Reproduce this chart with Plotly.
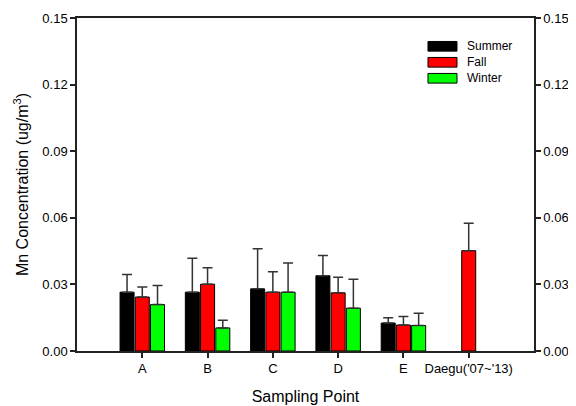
import plotly.graph_objects as go

categories = ["A", "B", "C", "D", "E", "Daegu('07~'13)"]
summer = [0.0265, 0.0265, 0.0280, 0.0339, 0.0126, None]
summer_err = [0.0080, 0.0153, 0.0181, 0.0091, 0.0024, None]
fall = [0.0243, 0.0301, 0.0265, 0.0262, 0.0117, 0.0452]
fall_err = [0.0045, 0.0074, 0.0092, 0.0070, 0.0038, 0.0124]
winter = [0.0209, 0.0104, 0.0265, 0.0193, 0.0115, None]
winter_err = [0.0086, 0.0034, 0.0131, 0.0130, 0.0055, None]
y_ticks = [0.00, 0.03, 0.06, 0.09, 0.12, 0.15]
y_tick_labels = ["0.00", "0.03", "0.06", "0.09", "0.12", "0.15"]

series_names = ["Summer", "Fall", "Winter"]
series_vals = [summer, fall, winter]
series_errs = [summer_err, fall_err, winter_err]
series_colors = ["#000000", "#ff0000", "#00ff00"]

fig = go.Figure()
for name, vals, errs, color in zip(series_names, series_vals, series_errs, series_colors):
    fig.add_trace(go.Bar(
        name=name, x=categories, y=vals,
        marker=dict(color=color, line=dict(color="#000000", width=1)),
        error_y=dict(type="data", array=errs, symmetric=False,
                     arrayminus=[0] * len(errs),
                     color="#333333", thickness=1.5, width=5),
        showlegend=False,
    ))

# invisible helper trace so the right-hand axis is drawn
fig.add_trace(go.Scatter(x=[categories[0]], y=[0], yaxis="y2", mode="markers",
                         marker=dict(opacity=0), showlegend=False, hoverinfo="skip"))

axis_col = "#222222"

# legend drawn as swatches + labels (paper coordinates)
legend_x0, legend_x1, legend_tx = 0.768, 0.8315, 0.849
legend_rows = [0.915, 0.867, 0.819]
legend_half = 0.0145
for name, color, yc in zip(series_names, series_colors, legend_rows):
    fig.add_shape(type="rect", xref="paper", yref="paper",
                  x0=legend_x0, x1=legend_x1, y0=yc - legend_half, y1=yc + legend_half,
                  fillcolor=color, line=dict(color="#000000", width=1))
    fig.add_annotation(xref="paper", yref="paper", x=legend_tx, y=yc,
                       xanchor="left", yanchor="middle", text=name, showarrow=False,
                       font=dict(size=12))

font = "Liberation Sans, Arial, sans-serif"
fig.update_layout(
    width=568, height=398,
    margin=dict(l=69, r=42, t=10, b=55),
    paper_bgcolor="white", plot_bgcolor="white",
    font=dict(family=font, size=13, color="#000000"),
    barmode="group", bargap=0.30, bargroupgap=0.08,
    xaxis=dict(
        type="category", range=[-1, 6], automargin=False,
        showline=True, linecolor=axis_col, linewidth=1.5, mirror=True,
        ticks="outside", ticklen=5, tickwidth=1.5, tickcolor=axis_col,
        showgrid=False, zeroline=False,
        title=dict(text="Sampling Point", font=dict(size=16), standoff=15),
        tickfont=dict(size=13),
    ),
    yaxis=dict(
        range=[0, 0.15], tickvals=y_ticks, ticktext=y_tick_labels, automargin=False,
        ticklabeloverflow="allow",
        showline=True, linecolor=axis_col, linewidth=1.5,
        ticks="outside", ticklen=5, tickwidth=1.5, tickcolor=axis_col,
        showgrid=False, zeroline=False,
        title=dict(text="Mn Concentration (ug/m<sup>3</sup>)", font=dict(size=16), standoff=10),
        tickfont=dict(size=13),
    ),
    yaxis2=dict(
        overlaying="y", side="right", range=[0, 0.15], automargin=False,
        ticklabeloverflow="allow",
        tickvals=y_ticks, ticktext=y_tick_labels,
        showline=True, linecolor=axis_col, linewidth=1.5,
        ticks="outside", ticklen=5, tickwidth=1.5, tickcolor=axis_col,
        showgrid=False, zeroline=False, tickfont=dict(size=13),
    ),
)

fig.write_html("out.html", config={"displayModeBar": False})
